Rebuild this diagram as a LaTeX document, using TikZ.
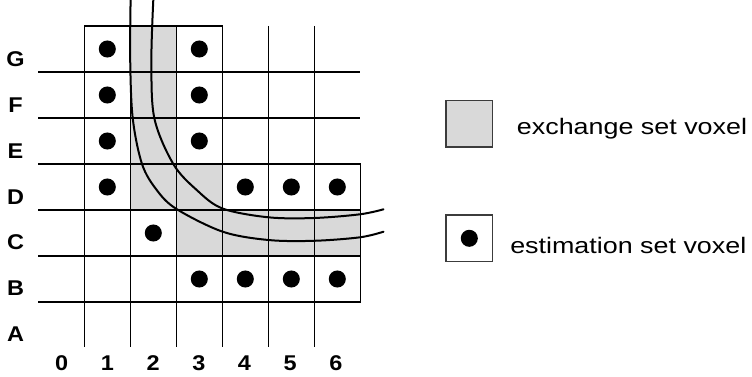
\documentclass[tikz,border=0pt]{standalone}
\usepackage{fontspec}
\setmainfont{Liberation Sans}
\newfontfamily\labfont[FakeStretch=1.1]{Liberation Sans Bold}
\newfontfamily\legfont[FakeStretch=1.2]{Liberation Sans}
\definecolor{exgray}{RGB}{217,217,217}
\definecolor{legedge}{RGB}{60,60,60}
\tikzset{
  gridline/.style={line width=1.1pt, black},
  boundcurve/.style={line width=1.5pt, black, line cap=round},
  dotmark/.style={circle, fill=black, draw=none, inner sep=0pt, minimum size=12.8pt},
  rowlab/.style={font=\labfont\fontsize{16}{16}\selectfont, anchor=base, inner sep=0pt},
  legtext/.style={font=\legfont\fontsize{16.8}{16.8}\selectfont, anchor=base west, inner sep=0pt},
  legbox/.style={draw=legedge, line width=0.9pt, minimum size=35pt, inner sep=0pt}
}
\begin{document}
\begin{tikzpicture}[x=0.75pt,y=-0.75pt]
\useasboundingbox (0,0) rectangle (752,377);
% exchange set region
\fill[exgray] (130.3,26) -- (176.3,26) -- (176.3,164) -- (222.3,164) -- (222.3,210)
  -- (360.3,210) -- (360.3,256) -- (176.3,256) -- (176.3,210) -- (130.3,210) -- cycle;
% grid lines
\foreach \y in {72,118,164,210,256,302}
  \draw[gridline] (38.3,\y) -- (360.3,\y);
\foreach \x in {84.3,130.3,176.3,222.3,268.3,314.3}
  \draw[gridline] (\x,26) -- (\x,347);
\draw[gridline, line cap=rect] (84.3,26) -- (222.3,26);
\draw[gridline, line cap=rect] (360.3,164) -- (360.3,302);
% estimation set voxels
\foreach \c/\r/\n in {1/0/G1,3/0/G3,1/1/F1,3/1/F3,1/2/E1,3/2/E3,1/3/D1,4/3/D4,5/3/D5,6/3/D6,
                      2/4/C2,3/5/B3,4/5/B4,5/5/B5,6/5/B6}
  \node[dotmark] (dot-\n) at ({61.3+46*\c},{49+46*\r}) {};
% boundary curves
\draw[boundcurve] plot[smooth, tension=0.55] coordinates {
  (130.6,0) (130.2,60) (132.7,118) (142,164) (156.7,190) (176.5,209)
  (222.7,231.7) (268.3,240) (314,240.8) (360,237.3) (383.5,231.7)};
\draw[boundcurve] plot[smooth, tension=0.55] coordinates {
  (153.3,0) (151.4,60) (154.3,118) (173.3,164) (196.7,190) (222.5,208.5)
  (268.3,217.3) (314,218) (360,214.3) (383.5,209.3)};
% row labels
\foreach \l [count=\k from 0] in {G,F,E,D,C,B,A}
  \node[rowlab] (row-\l) at (15.5,{66.7+45.8*\k}) {\l};
% column labels
\foreach \d in {0,...,6}
  \node[rowlab] (col-\d) at ({61.7+45.7*\d},370) {\d};
% legend
\node[legbox, fill=exgray] (leg-ex) at (469.3,123.7) {};
\node[legbox, fill=white] (leg-est) at (469.3,238.3) {};
\node[dotmark] (leg-dot) at (leg-est.center) {};
\node[legtext] (leg-ex-text) at (516.7,135) {exchange set voxel};
\node[legtext] (leg-est-text) at (510,253.3) {estimation set voxel};
\end{tikzpicture}
\end{document}
